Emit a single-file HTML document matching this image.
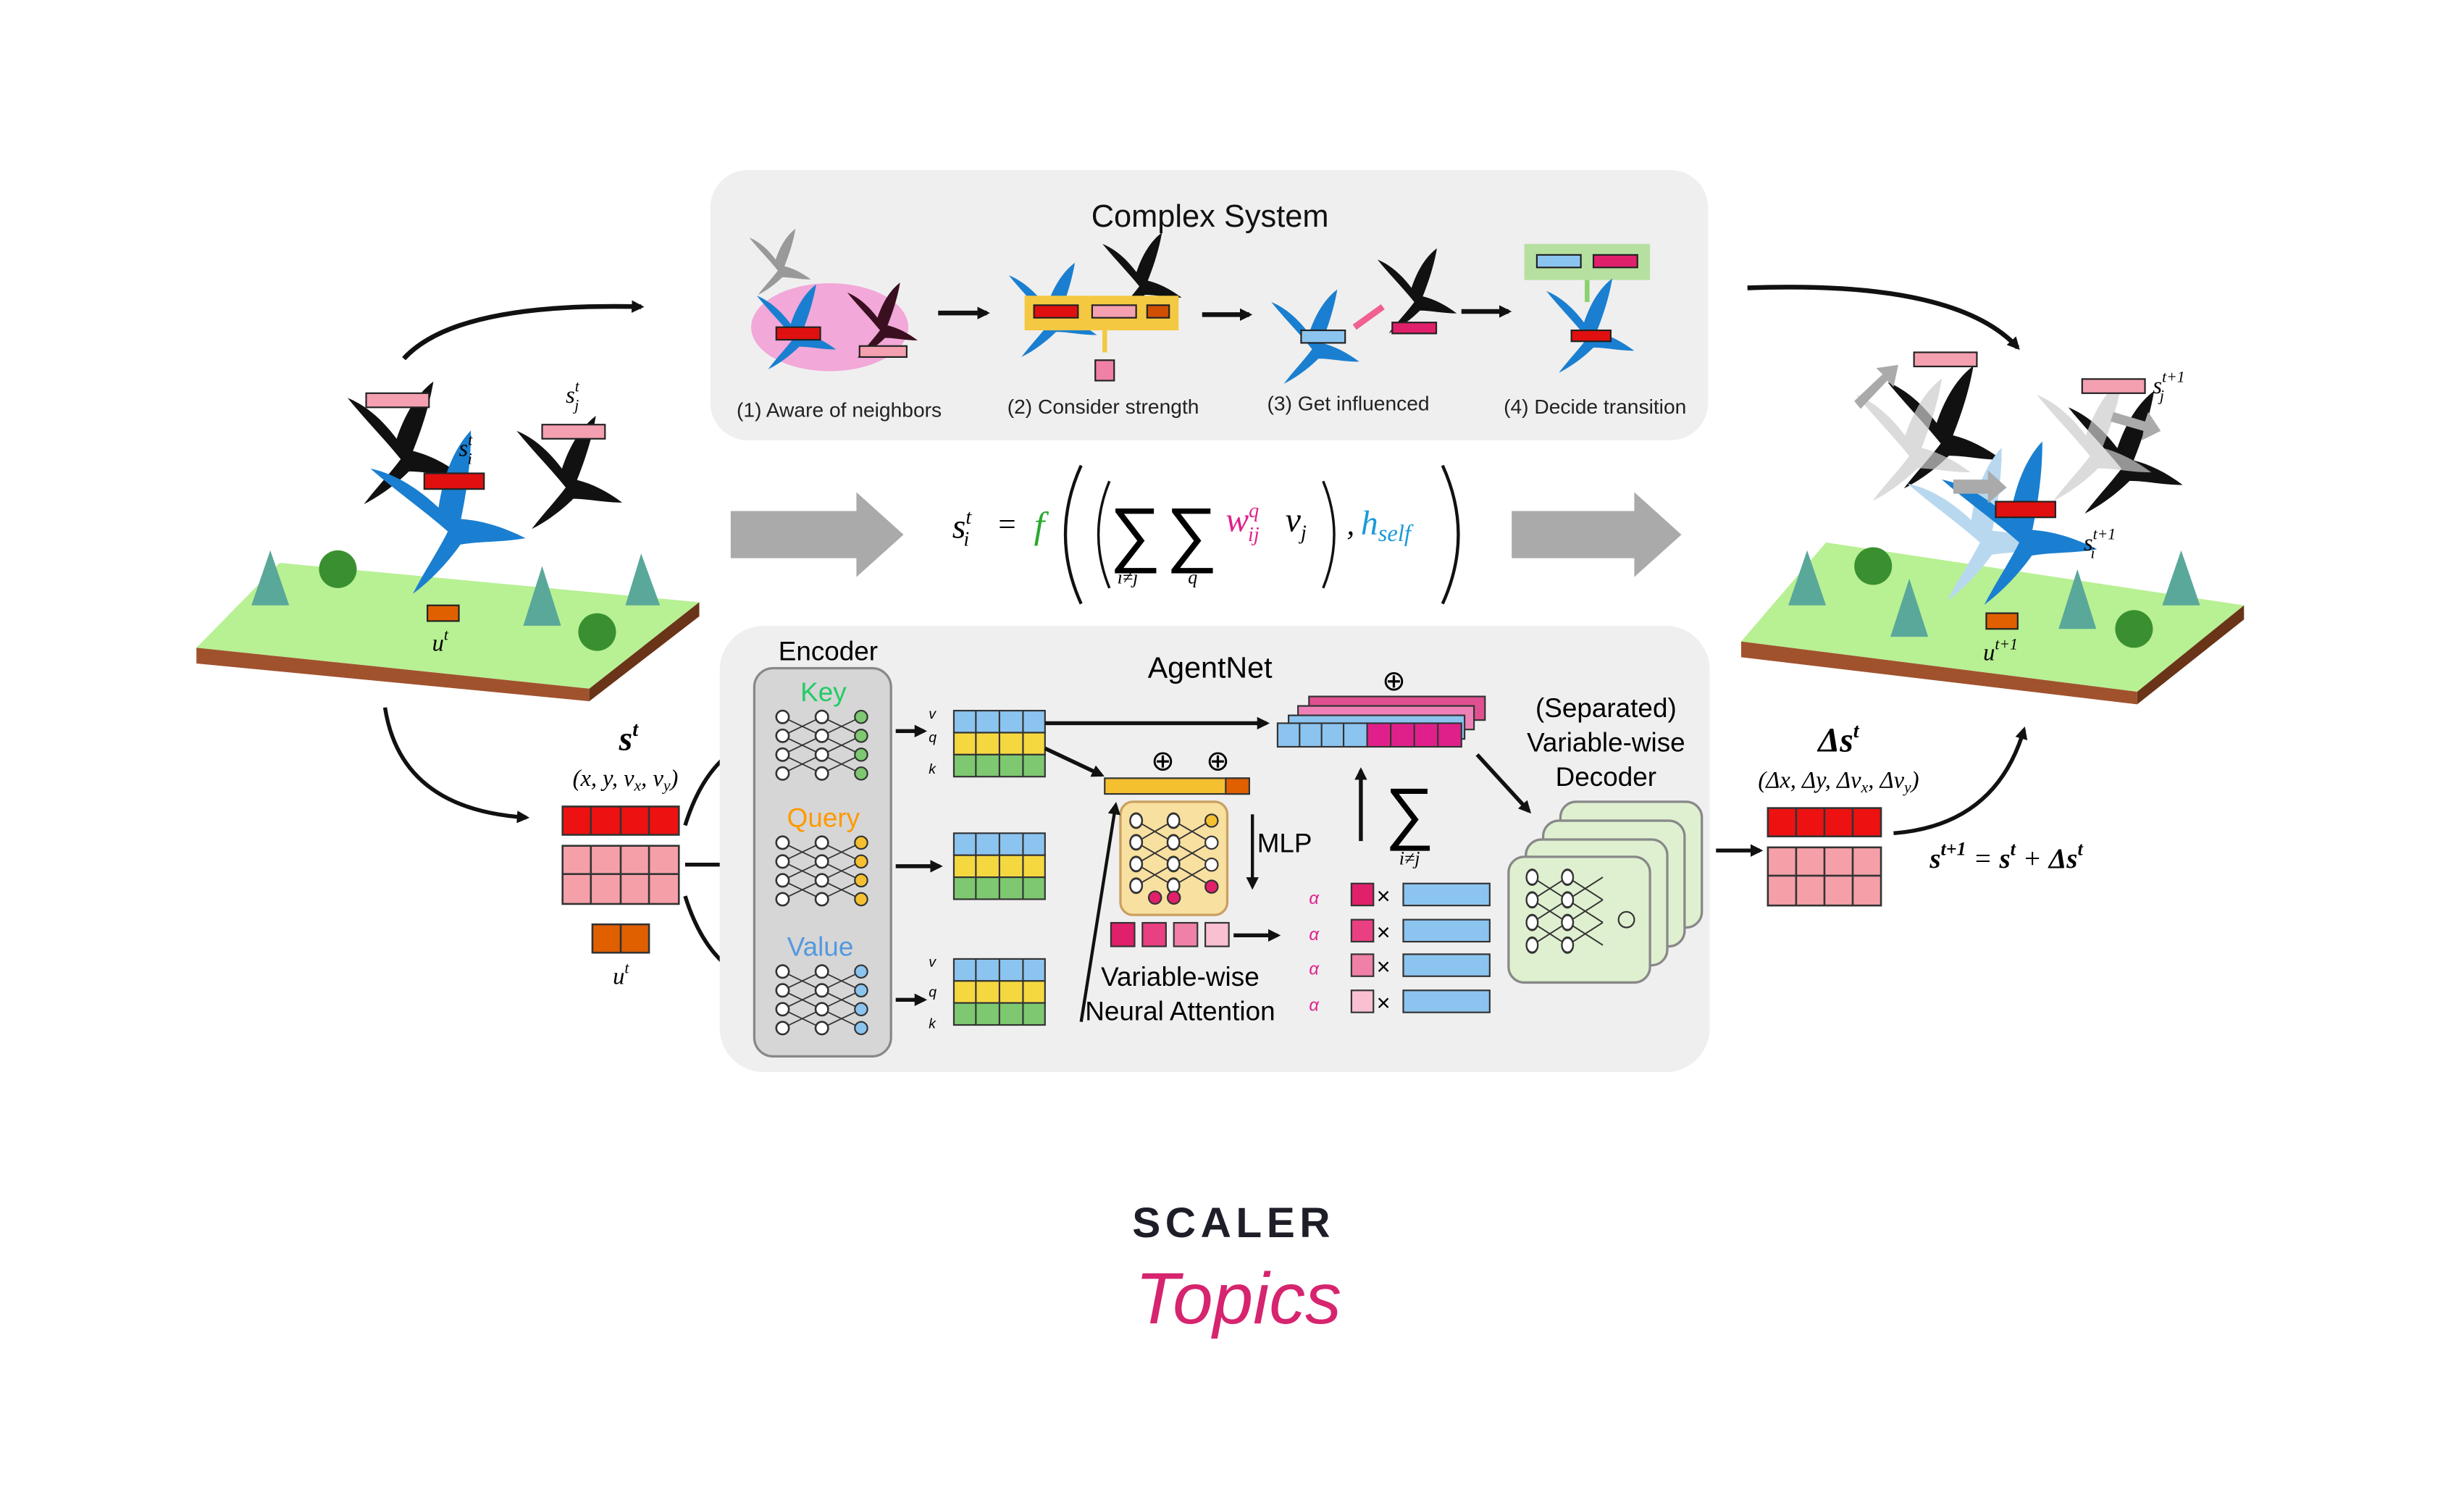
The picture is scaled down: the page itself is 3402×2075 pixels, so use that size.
<!DOCTYPE html>
<html><head><meta charset="utf-8"><style>
html,body{margin:0;padding:0;background:#fff;}
svg{display:block;}
text{font-family:"Liberation Sans",sans-serif;}
.s{font-family:"Liberation Serif",serif;font-style:italic;}
</style></head><body>
<svg width="3402" height="2075" viewBox="0 0 1568 956" xmlns="http://www.w3.org/2000/svg">
<defs>
<path id="bird" d="M0,0 C-8,-10 -18,-20 -26,-30 C-16,-26 -8,-18 -2,-10 C2,-22 8,-32 16,-38 C14,-26 10,-14 6,-4 C14,-2 22,2 30,8 C20,8 12,6 4,6 C-2,12 -10,18 -18,22 C-12,14 -6,8 0,0 Z"/>
<marker id="ah" markerWidth="8" markerHeight="8" refX="6" refY="4" orient="auto" markerUnits="userSpaceOnUse"><path d="M0,0 L8,4 L0,8 Z" fill="#111"/></marker>
<g id="net"><g stroke="#333" stroke-width="0.8">
<line x1="0" y1="0" x2="25" y2="12"/><line x1="0" y1="12" x2="25" y2="0"/><line x1="0" y1="24" x2="25" y2="36"/><line x1="0" y1="36" x2="25" y2="24"/><line x1="0" y1="12" x2="25" y2="24"/><line x1="0" y1="24" x2="25" y2="12"/>
<line x1="25" y1="0" x2="50" y2="12"/><line x1="25" y1="12" x2="50" y2="0"/><line x1="25" y1="24" x2="50" y2="36"/><line x1="25" y1="36" x2="50" y2="24"/><line x1="25" y1="12" x2="50" y2="24"/><line x1="25" y1="24" x2="50" y2="12"/></g>
<g fill="#fff" stroke="#333" stroke-width="1.2"><circle cx="0" cy="0" r="4"/><circle cx="0" cy="12" r="4"/><circle cx="0" cy="24" r="4"/><circle cx="0" cy="36" r="4"/><circle cx="25" cy="0" r="4"/><circle cx="25" cy="12" r="4"/><circle cx="25" cy="24" r="4"/><circle cx="25" cy="36" r="4"/></g></g>
</defs>

<!-- top box -->
<rect x="452" y="108" width="635" height="172" rx="24" fill="#efefef"/>
<text x="770" y="144" font-size="20" text-anchor="middle" fill="#111">Complex System</text>
<ellipse cx="528" cy="208" rx="50" ry="28" fill="#f2a8d8"/>
<use href="#bird" transform="translate(495,172) scale(0.7)" fill="#999"/>
<use href="#bird" transform="translate(505,215) scale(0.9)" fill="#1a7fd0"/>
<use href="#bird" transform="translate(560,210) scale(0.8)" fill="#3a1020"/>
<rect x="494" y="208" width="28" height="8" fill="#e01010" stroke="#222" stroke-width="1"/>
<rect x="547" y="220" width="30" height="7" fill="#f4a0b0" stroke="#222" stroke-width="1"/>
<line x1="597" y1="199" x2="628" y2="199" stroke="#111" stroke-width="3" marker-end="url(#ah)"/>
<use href="#bird" transform="translate(668,205) scale(1)" fill="#1a7fd0"/>
<use href="#bird" transform="translate(725,182) scale(0.9)" fill="#111"/>
<rect x="652" y="188" width="98" height="22" fill="#f5c842"/>
<rect x="658" y="194" width="28" height="8" fill="#e01010" stroke="#222"/>
<rect x="695" y="194" width="28" height="8" fill="#f4a0b0" stroke="#222"/>
<rect x="730" y="194" width="14" height="8" fill="#d05000" stroke="#222"/>
<line x1="703" y1="210" x2="703" y2="224" stroke="#f5c842" stroke-width="3"/>
<rect x="697" y="229" width="12" height="13" fill="#f080a8" stroke="#222"/>
<line x1="765" y1="200" x2="795" y2="200" stroke="#111" stroke-width="3" marker-end="url(#ah)"/>
<use href="#bird" transform="translate(835,222) scale(1)" fill="#1a7fd0"/>
<use href="#bird" transform="translate(900,192) scale(0.9)" fill="#111"/>
<rect x="828" y="210" width="28" height="8" fill="#8cc4f0" stroke="#222"/>
<rect x="886" y="205" width="28" height="7" fill="#e0206a" stroke="#222"/>
<line x1="880" y1="195" x2="862" y2="208" stroke="#f06090" stroke-width="4"/>
<line x1="930" y1="198" x2="960" y2="198" stroke="#111" stroke-width="3" marker-end="url(#ah)"/>
<rect x="970" y="155" width="80" height="23" fill="#b6e0a0"/>
<rect x="978" y="162" width="28" height="8" fill="#8cc4f0" stroke="#222"/>
<rect x="1014" y="162" width="28" height="8" fill="#e0206a" stroke="#222"/>
<line x1="1010" y1="178" x2="1010" y2="192" stroke="#8cd070" stroke-width="3"/>
<use href="#bird" transform="translate(1010,215) scale(1)" fill="#1a7fd0"/>
<rect x="1000" y="210" width="25" height="7" fill="#e01010" stroke="#222"/>
<g font-size="13" fill="#222" text-anchor="middle">
<text x="534" y="265">(1) Aware of neighbors</text><text x="702" y="263">(2) Consider strength</text>
<text x="858" y="261">(3) Get influenced</text><text x="1015" y="263">(4) Decide transition</text></g>

<!-- left scene -->
<path d="M257,228 Q290,192 408,195" fill="none" stroke="#111" stroke-width="3" marker-end="url(#ah)"/>
<polygon points="125,412 178,358 445,383 375,438" fill="#b8f094"/>
<polygon points="125,412 375,438 375,446 125,422" fill="#a0522d"/>
<polygon points="375,438 445,383 445,392 375,446" fill="#6a3418"/>
<g fill="#5aa89a"><polygon points="172,350 160,385 184,385"/><polygon points="345,360 333,398 357,398"/><polygon points="408,352 398,385 420,385"/></g>
<g fill="#3a9030"><circle cx="215" cy="362" r="12"/><circle cx="380" cy="402" r="12"/></g>
<use href="#bird" transform="translate(255,292) scale(1.3)" fill="#111"/>
<use href="#bird" transform="translate(360,310) scale(1.2)" fill="#111"/>
<use href="#bird" transform="translate(285,338) scale(1.6) rotate(-10)" fill="#1a7fd0"/>
<rect x="233" y="250" width="40" height="9" fill="#f4a0b0" stroke="#222"/>
<rect x="345" y="270" width="40" height="9" fill="#f4a0b0" stroke="#222"/>
<rect x="270" y="301" width="38" height="10" fill="#e01010" stroke="#222"/>
<text x="360" y="256" class="s" font-size="15">s<tspan font-size="10" dy="-7">t</tspan><tspan font-size="10" dx="-3" dy="12">j</tspan></text>
<text x="292" y="290" class="s" font-size="15">s<tspan font-size="10" dy="-7">t</tspan><tspan font-size="10" dx="-3" dy="12">i</tspan></text>
<rect x="272" y="385" width="20" height="10" fill="#e06000" stroke="#222"/>
<text x="275" y="414" class="s" font-size="15">u<tspan font-size="10" dy="-7">t</tspan></text>

<path d="M245,450 Q255,515 335,520" fill="none" stroke="#111" stroke-width="2.5" marker-end="url(#ah)"/>
<text x="400" y="477" class="s" font-size="22" font-weight="bold" text-anchor="middle">s<tspan font-size="13" dy="-9">t</tspan></text>
<text x="398" y="500" class="s" font-size="15" text-anchor="middle">(x, y, v<tspan font-size="10" dy="3">x</tspan><tspan dy="-3">, v</tspan><tspan font-size="10" dy="3">y</tspan><tspan dy="-3">)</tspan></text>
<g stroke="#333" stroke-width="1.2">
<rect x="358" y="513" width="74" height="18" fill="#ee1111"/>
<line x1="376" y1="513" x2="376" y2="531"/><line x1="395" y1="513" x2="395" y2="531"/><line x1="413" y1="513" x2="413" y2="531"/>
<rect x="358" y="538" width="74" height="37" fill="#f5a0a8"/>
<line x1="358" y1="556" x2="432" y2="556"/><line x1="376" y1="538" x2="376" y2="575"/><line x1="395" y1="538" x2="395" y2="575"/><line x1="413" y1="538" x2="413" y2="575"/>
<rect x="377" y="588" width="36" height="18" fill="#e06000"/><line x1="395" y1="588" x2="395" y2="606"/></g>
<text x="390" y="626" class="s" font-size="15">u<tspan font-size="10" dy="-7">t</tspan></text>
<path d="M436,525 Q450,480 482,470" fill="none" stroke="#111" stroke-width="2.5"/>
<line x1="436" y1="550" x2="482" y2="550" stroke="#111" stroke-width="2.5"/>
<path d="M436,570 Q450,615 482,625" fill="none" stroke="#111" stroke-width="2.5"/>

<!-- formula -->
<polygon points="465,325 545,325 545,313 575,340 545,367 545,355 465,355" fill="#aaa"/>
<polygon points="962,325 1040,325 1040,313 1070,340 1040,367 1040,355 962,355" fill="#aaa"/>
<text x="606" y="342" class="s" font-size="22">s<tspan font-size="13" dy="-9">t</tspan><tspan font-size="13" dx="-5" dy="14">i</tspan></text>
<text x="634" y="340" font-size="20" class="s">=</text>
<text x="658" y="342" class="s" font-size="24" fill="#2aa830">f</text>
<path d="M688,296 Q668,340 688,384" fill="none" stroke="#111" stroke-width="2"/>
<path d="M706,306 Q692,340 706,374" fill="none" stroke="#111" stroke-width="1.6"/>
<text x="706" y="355" font-family="Liberation Serif" font-size="46">∑</text>
<text x="742" y="355" font-family="Liberation Serif" font-size="46">∑</text>
<text x="711" y="371" class="s" font-size="12">i≠j</text><text x="756" y="371" class="s" font-size="12">q</text>
<text x="780" y="338" class="s" font-size="22" fill="#e0208a">w<tspan font-size="13" dy="-9">q</tspan><tspan font-size="13" dx="-7" dy="15">ij</tspan></text>
<text x="818" y="338" class="s" font-size="22">v<tspan font-size="13" dy="5">j</tspan></text>
<path d="M842,306 Q856,340 842,374" fill="none" stroke="#111" stroke-width="1.6"/>
<text x="857" y="340" class="s" font-size="20">,</text>
<text x="866" y="340" class="s" font-size="22" fill="#1a9ad8">h<tspan font-size="15" dy="4">self</tspan></text>
<path d="M918,296 Q938,340 918,384" fill="none" stroke="#111" stroke-width="2"/>

<!-- bottom box -->
<rect x="458" y="398" width="630" height="284" rx="28" fill="#efefef"/>
<text x="527" y="420" font-size="17" text-anchor="middle">Encoder</text>
<rect x="480" y="425" width="87" height="247" rx="12" fill="#d6d6d6" stroke="#888" stroke-width="1.5"/>
<text x="524" y="446" font-size="17" text-anchor="middle" fill="#22cc66">Key</text>
<text x="524" y="526" font-size="17" text-anchor="middle" fill="#ff9900">Query</text>
<text x="522" y="608" font-size="17" text-anchor="middle" fill="#5599dd">Value</text>
<use href="#net" transform="translate(498,456)"/><use href="#net" transform="translate(498,536)"/><use href="#net" transform="translate(498,618)"/>
<g><circle cx="548" cy="456" r="4" fill="#7dc870" stroke="#333"/><circle cx="548" cy="468" r="4" fill="#7dc870" stroke="#333"/><circle cx="548" cy="480" r="4" fill="#7dc870" stroke="#333"/><circle cx="548" cy="492" r="4" fill="#7dc870" stroke="#333"/>
<circle cx="548" cy="536" r="4" fill="#f5c030" stroke="#333"/><circle cx="548" cy="548" r="4" fill="#f5c030" stroke="#333"/><circle cx="548" cy="560" r="4" fill="#f5c030" stroke="#333"/><circle cx="548" cy="572" r="4" fill="#f5c030" stroke="#333"/>
<circle cx="548" cy="618" r="4" fill="#8cc4f0" stroke="#333"/><circle cx="548" cy="630" r="4" fill="#8cc4f0" stroke="#333"/><circle cx="548" cy="642" r="4" fill="#8cc4f0" stroke="#333"/><circle cx="548" cy="654" r="4" fill="#8cc4f0" stroke="#333"/></g>
<g stroke="#111" stroke-width="2.5"><line x1="570" y1="465" x2="588" y2="465" marker-end="url(#ah)"/><line x1="570" y1="551" x2="598" y2="551" marker-end="url(#ah)"/><line x1="570" y1="636" x2="588" y2="636" marker-end="url(#ah)"/></g>
<g stroke="#333" stroke-width="1">
<g id="grid"><rect x="607" y="452" width="58" height="14" fill="#8cc4f0"/><rect x="607" y="466" width="58" height="14" fill="#f5d840"/><rect x="607" y="480" width="58" height="14" fill="#7dc870"/>
<line x1="621" y1="452" x2="621" y2="494"/><line x1="636" y1="452" x2="636" y2="494"/><line x1="651" y1="452" x2="651" y2="494"/></g>
<use href="#grid" y="78"/><use href="#grid" y="158"/></g>
<g class="s" font-size="9"><text x="591" y="457">v</text><text x="591" y="472">q</text><text x="591" y="492">k</text><text x="591" y="615">v</text><text x="591" y="634">q</text><text x="591" y="654">k</text></g>
<text x="770" y="431" font-size="19" text-anchor="middle">AgentNet</text>
<line x1="665" y1="460" x2="806" y2="460" stroke="#111" stroke-width="2.5" marker-end="url(#ah)"/>
<line x1="665" y1="476" x2="701" y2="493" stroke="#111" stroke-width="2.5" marker-end="url(#ah)"/>
<g font-size="18" text-anchor="middle"><text x="740" y="490">⊕</text><text x="775" y="490">⊕</text><text x="887" y="439">⊕</text></g>
<rect x="703" y="495" width="92" height="10" fill="#f5c030" stroke="#333"/><rect x="780" y="495" width="15" height="10" fill="#e06000" stroke="#333"/>
<rect x="713" y="510" width="68" height="72" rx="8" fill="#f8e0a0" stroke="#caa060" stroke-width="1.5"/>
<use href="#net" transform="translate(723,522) scale(0.95,1.15)"/>
<g stroke="#333"><circle cx="771" cy="522" r="4" fill="#f5c030"/><circle cx="771" cy="536" r="4" fill="#fff"/><circle cx="771" cy="550" r="4" fill="#fff"/><circle cx="771" cy="564" r="4" fill="#e0206a"/><circle cx="747" cy="571" r="4" fill="#e0206a"/><circle cx="735" cy="571" r="4" fill="#e0206a"/></g>
<text x="800" y="542" font-size="17">MLP</text>
<line x1="797" y1="518" x2="797" y2="564" stroke="#111" stroke-width="2" marker-end="url(#ah)"/>
<g stroke="#333"><rect x="707" y="587" width="15" height="15" fill="#e0206a"/><rect x="727" y="587" width="15" height="15" fill="#e84080"/><rect x="747" y="587" width="15" height="15" fill="#f080a8"/><rect x="767" y="587" width="15" height="15" fill="#f8c0d0"/></g>
<line x1="785" y1="595" x2="813" y2="595" stroke="#111" stroke-width="2.5" marker-end="url(#ah)"/>
<text x="751" y="627" font-size="17" text-anchor="middle">Variable-wise</text>
<text x="751" y="649" font-size="17" text-anchor="middle">Neural Attention</text>
<line x1="688" y1="650" x2="710" y2="512" stroke="#111" stroke-width="2" marker-end="url(#ah)"/>
<g stroke="#333" stroke-width="1">
<rect x="833" y="443" width="112" height="15" fill="#e05090"/><rect x="826" y="449" width="112" height="15" fill="#f080b8"/><rect x="820" y="455" width="112" height="15" fill="#8cc4f0"/>
<rect x="813" y="460" width="57" height="15" fill="#8cc4f0"/><rect x="870" y="460" width="60" height="15" fill="#e0208a"/>
<line x1="827" y1="460" x2="827" y2="475"/><line x1="841" y1="460" x2="841" y2="475"/><line x1="855" y1="460" x2="855" y2="475"/><line x1="885" y1="460" x2="885" y2="475"/><line x1="900" y1="460" x2="900" y2="475"/><line x1="915" y1="460" x2="915" y2="475"/></g>
<line x1="866" y1="535" x2="866" y2="490" stroke="#111" stroke-width="2.5" marker-end="url(#ah)"/>
<text x="897" y="532" font-family="Liberation Serif" font-size="44" text-anchor="middle">∑</text>
<text x="897" y="550" class="s" font-size="12" text-anchor="middle">i≠j</text>
<g class="s" font-size="11" fill="#e0208a"><text x="833" y="575">α</text><text x="833" y="598">α</text><text x="833" y="620">α</text><text x="833" y="643">α</text></g>
<g stroke="#333"><rect x="860" y="562" width="14" height="14" fill="#e0206a"/><rect x="860" y="585" width="14" height="14" fill="#e84080"/><rect x="860" y="607" width="14" height="14" fill="#f080a8"/><rect x="860" y="630" width="14" height="14" fill="#f8c0d0"/>
<rect x="893" y="562" width="55" height="14" fill="#8cc4f0"/><rect x="893" y="585" width="55" height="14" fill="#8cc4f0"/><rect x="893" y="607" width="55" height="14" fill="#8cc4f0"/><rect x="893" y="630" width="55" height="14" fill="#8cc4f0"/></g>
<g font-size="15"><text x="876" y="575">×</text><text x="876" y="598">×</text><text x="876" y="620">×</text><text x="876" y="643">×</text></g>
<g font-size="17" text-anchor="middle"><text x="1022" y="456">(Separated)</text><text x="1022" y="478">Variable-wise</text><text x="1022" y="500">Decoder</text></g>
<line x1="940" y1="480" x2="973" y2="516" stroke="#111" stroke-width="2.5" marker-end="url(#ah)"/>
<g fill="#dff0d0" stroke="#888" stroke-width="1.5"><rect x="993" y="510" width="90" height="80" rx="10"/><rect x="982" y="522" width="90" height="80" rx="10"/><rect x="971" y="534" width="90" height="80" rx="10"/><rect x="960" y="545" width="90" height="80" rx="10"/></g>
<use href="#net" transform="translate(975,558) scale(0.9,1.2)"/>
<circle cx="1035" cy="585" r="5" fill="#dff0d0" stroke="#333"/>
<line x1="1092" y1="541" x2="1120" y2="541" stroke="#111" stroke-width="2.5" marker-end="url(#ah)"/>

<!-- right -->
<text x="1170" y="478" class="s" font-size="22" font-weight="bold" text-anchor="middle">Δs<tspan font-size="13" dy="-9">t</tspan></text>
<text x="1170" y="501" class="s" font-size="15" text-anchor="middle">(Δx, Δy, Δv<tspan font-size="10" dy="3">x</tspan><tspan dy="-3">, Δv</tspan><tspan font-size="10" dy="3">y</tspan><tspan dy="-3">)</tspan></text>
<g stroke="#333" stroke-width="1.2">
<rect x="1125" y="514" width="72" height="18" fill="#ee1111"/>
<line x1="1143" y1="514" x2="1143" y2="532"/><line x1="1161" y1="514" x2="1161" y2="532"/><line x1="1179" y1="514" x2="1179" y2="532"/>
<rect x="1125" y="539" width="72" height="37" fill="#f5a0a8"/>
<line x1="1125" y1="557" x2="1197" y2="557"/><line x1="1143" y1="539" x2="1143" y2="576"/><line x1="1161" y1="539" x2="1161" y2="576"/><line x1="1179" y1="539" x2="1179" y2="576"/></g>
<text x="1228" y="552" class="s" font-size="18" font-weight="bold">s<tspan font-size="12" dy="-8">t+1</tspan><tspan dy="8" font-weight="normal"> = </tspan>s<tspan font-size="12" dy="-8">t</tspan><tspan dy="8" font-weight="normal"> + </tspan>Δs<tspan font-size="12" dy="-8">t</tspan></text>
<path d="M1205,530 Q1270,525 1288,464" fill="none" stroke="#111" stroke-width="2.5" marker-end="url(#ah)"/>
<path d="M1112,183 Q1245,178 1284,221" fill="none" stroke="#111" stroke-width="3" marker-end="url(#ah)"/>
<polygon points="1108,408 1162,345 1428,385 1360,440" fill="#b8f094"/>
<polygon points="1108,408 1360,440 1360,448 1108,418" fill="#a0522d"/>
<polygon points="1360,440 1428,385 1428,394 1360,448" fill="#6a3418"/>
<g fill="#5aa89a"><polygon points="1150,350 1138,385 1162,385"/><polygon points="1215,368 1203,405 1227,405"/><polygon points="1322,362 1310,400 1334,400"/><polygon points="1388,350 1376,385 1400,385"/></g>
<g fill="#3a9030"><circle cx="1192" cy="360" r="12"/><circle cx="1358" cy="400" r="12"/></g>
<use href="#bird" transform="translate(1235,282) scale(1.3)" fill="#111"/>
<use href="#bird" transform="translate(1215,290) scale(1.3)" fill="#ccc" opacity="0.7"/>
<use href="#bird" transform="translate(1350,298) scale(1.3)" fill="#111"/>
<use href="#bird" transform="translate(1330,290) scale(1.3)" fill="#ccc" opacity="0.7"/>
<use href="#bird" transform="translate(1260,345) scale(1.5) rotate(-10)" fill="#b8d8f0"/>
<use href="#bird" transform="translate(1285,345) scale(1.6) rotate(-10)" fill="#1a7fd0"/>
<polygon points="1180,255 1198,238 1194,234 1208,232 1205,246 1201,242 1184,260" fill="#aaa"/>
<polygon points="1345,262 1365,268 1367,262 1375,274 1363,280 1364,274 1343,268" fill="#aaa"/>
<polygon points="1243,305 1265,305 1265,299 1277,310 1265,320 1265,314 1243,314" fill="#aaa"/>
<rect x="1218" y="224" width="40" height="9" fill="#f4a0b0" stroke="#222"/>
<rect x="1325" y="241" width="40" height="9" fill="#f4a0b0" stroke="#222"/>
<rect x="1270" y="319" width="38" height="10" fill="#e01010" stroke="#222"/>
<text x="1370" y="250" class="s" font-size="15">s<tspan font-size="10" dy="-7">t+1</tspan><tspan font-size="10" dx="-16" dy="12">j</tspan></text>
<text x="1326" y="350" class="s" font-size="15">s<tspan font-size="10" dy="-7">t+1</tspan><tspan font-size="10" dx="-16" dy="12">i</tspan></text>
<rect x="1264" y="390" width="20" height="10" fill="#e06000" stroke="#222"/>
<text x="1262" y="420" class="s" font-size="15">u<tspan font-size="10" dy="-7">t+1</tspan></text>

<!-- logo -->
<text x="785" y="787" font-size="27" font-weight="bold" text-anchor="middle" letter-spacing="3" fill="#1e1e28">SCALER</text>
<text x="788" y="842" font-family="Liberation Serif" font-style="italic" font-size="46" text-anchor="middle" fill="#d6246e">Topics</text>
</svg>
</body></html>
